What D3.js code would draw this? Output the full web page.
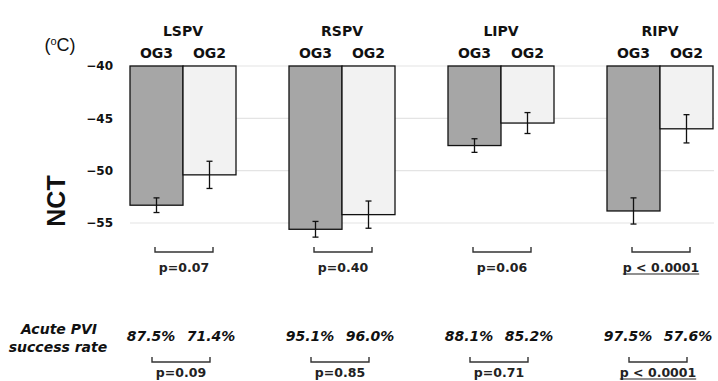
<!DOCTYPE html>
<html><head><meta charset="utf-8">
<script src="https://cdn.jsdelivr.net/npm/d3@7"></script>
<style>body{margin:0;background:#fff}svg{display:block}</style>
</head><body>
<svg id="c" width="718" height="381"></svg>
<script>
const groups = ["LSPV","RSPV","LIPV","RIPV"];
const series = ["OG3","OG2"];
const og3Mean = [-53.3, -55.6, -47.6, -53.85];
const og3Err  = [0.7, 0.75, 0.65, 1.25];
const og2Mean = [-50.4, -54.2, -45.45, -46.0];
const og2Err  = [1.3, 1.3, 1.0, 1.35];
const yTicks = [-40, -45, -50, -55];
const pNct = ["p=0.07","p=0.40","p=0.06","p < 0.0001"];
const pNctSig = [false,false,false,true];
const og3Rate = ["87.5%","95.1%","88.1%","97.5%"];
const og2Rate = ["71.4%","96.0%","85.2%","57.6%"];
const pRate = ["p=0.09","p=0.85","p=0.71","p < 0.0001"];
const pRateSig = [false,false,false,true];

const svg = d3.select("#c");
const F = "'DejaVu Sans', Verdana, sans-serif";

const y = d3.scaleLinear().domain([-40,-55]).range([66,223]);
const x = d3.scaleBand().domain(groups).range([130,713]).paddingInner(1/3).paddingOuter(0);
const xs = d3.scaleBand().domain(series).range([0, x.bandwidth()]);

// gridlines
svg.append("g").selectAll("line").data(yTicks).join("line")
  .attr("x1",130).attr("x2",714).attr("y1",d=>y(d)).attr("y2",d=>y(d))
  .attr("stroke","#e4e4e4").attr("stroke-width",1.2);

// y axis labels
const yAxis = d3.axisLeft(y).tickValues(yTicks).tickSize(0).tickPadding(0).tickFormat(d3.format("d"));
const ga = svg.append("g").attr("transform","translate(113,0)").call(yAxis);
ga.select(".domain").remove();
ga.selectAll("text").attr("font-family",F).attr("font-weight","bold").attr("font-size",12).attr("fill","#111");

svg.append("text").attr("x",60).attr("y",51).attr("text-anchor","middle")
  .attr("font-family","'Liberation Sans', Arial, sans-serif").attr("font-size",18).attr("fill","#111")
  .html('(<tspan font-size="11" dy="-6">o</tspan><tspan dy="6">C)</tspan>');

svg.append("text").attr("transform","translate(65,201) rotate(-90)").attr("text-anchor","middle")
  .attr("font-family","'Liberation Sans', Arial, sans-serif").attr("font-weight","bold").attr("font-size",25).attr("fill","#111")
  .text("NCT");

const data = [];
groups.forEach((g,i)=>{
  data.push({g, s:"OG3", v:og3Mean[i], e:og3Err[i]});
  data.push({g, s:"OG2", v:og2Mean[i], e:og2Err[i]});
});

const gg = svg.append("g");
gg.selectAll("rect").data(data).join("rect")
  .attr("x",d=>x(d.g)+xs(d.s)).attr("width",xs.bandwidth())
  .attr("y",y(-40)).attr("height",d=>y(d.v)-y(-40))
  .attr("fill",d=>d.s==="OG3"?"#a6a6a6":"#f2f2f2")
  .attr("stroke","#111").attr("stroke-width",1.3);

// error bars
const eb = gg.selectAll("g.eb").data(data).join("g").attr("class","eb")
  .attr("transform",d=>`translate(${x(d.g)+xs(d.s)+xs.bandwidth()/2},0)`);
eb.append("line").attr("y1",d=>y(d.v-d.e)).attr("y2",d=>y(d.v+d.e)).attr("stroke","#111").attr("stroke-width",1.3);
eb.append("line").attr("x1",-3).attr("x2",3).attr("y1",d=>y(d.v-d.e)).attr("y2",d=>y(d.v-d.e)).attr("stroke","#111").attr("stroke-width",1.3);
eb.append("line").attr("x1",-3).attr("x2",3).attr("y1",d=>y(d.v+d.e)).attr("y2",d=>y(d.v+d.e)).attr("stroke","#111").attr("stroke-width",1.3);

// group titles and series labels
groups.forEach((g,i)=>{
  const cx = x(g)+x.bandwidth()/2;
  svg.append("text").attr("x",cx).attr("y",36).attr("text-anchor","middle")
    .attr("font-family",F).attr("font-weight","bold").attr("font-size",14).attr("fill","#111").text(g);
  series.forEach(s=>{
    svg.append("text").attr("x",x(g)+xs(s)+xs.bandwidth()/2).attr("y",58).attr("text-anchor","middle")
      .attr("font-family",F).attr("font-weight","bold").attr("font-size",14).attr("fill","#111").text(s);
  });
});

function bracket(cx, yb, half){
  svg.append("path").attr("d",`M${cx-half},${yb-5}V${yb}H${cx+half}V${yb-5}`)
    .attr("fill","none").attr("stroke","#333").attr("stroke-width",1.4);
}
function ptext(cx, yb, t, sig){
  const tx = svg.append("text").attr("x",cx).attr("y",yb).attr("text-anchor","middle")
    .attr("font-family",F).attr("font-weight","bold").attr("font-size",12.5).attr("fill","#222").text(t);
  if(sig){
    const w = tx.node().getComputedTextLength();
    svg.append("line").attr("x1",cx-w/2).attr("x2",cx+w/2).attr("y1",yb+2).attr("y2",yb+2)
      .attr("stroke","#222").attr("stroke-width",1.2);
  }
}

groups.forEach((g,i)=>{
  const cx = x(g)+x.bandwidth()/2;
  bracket(cx+1, 252, 29);
  ptext(cx+1, 272, pNct[i], pNctSig[i]);
  const lc = cx - 2;
  svg.append("text").attr("x",lc-30).attr("y",341).attr("text-anchor","middle")
    .attr("font-family",F).attr("font-weight","bold").attr("font-style","italic").attr("font-size",14).attr("fill","#111").text(og3Rate[i]);
  svg.append("text").attr("x",lc+30).attr("y",341).attr("text-anchor","middle")
    .attr("font-family",F).attr("font-weight","bold").attr("font-style","italic").attr("font-size",14).attr("fill","#111").text(og2Rate[i]);
  bracket(lc, 362, 29);
  ptext(lc, 377, pRate[i], pRateSig[i]);
});

svg.append("text").attr("x",59).attr("y",334).attr("text-anchor","middle")
  .attr("font-family",F).attr("font-weight","bold").attr("font-style","italic").attr("font-size",14).attr("fill","#111").text("Acute PVI");
svg.append("text").attr("x",58).attr("y",352).attr("text-anchor","middle")
  .attr("font-family",F).attr("font-weight","bold").attr("font-style","italic").attr("font-size",14).attr("fill","#111").text("success rate");
</script>
</body></html>
